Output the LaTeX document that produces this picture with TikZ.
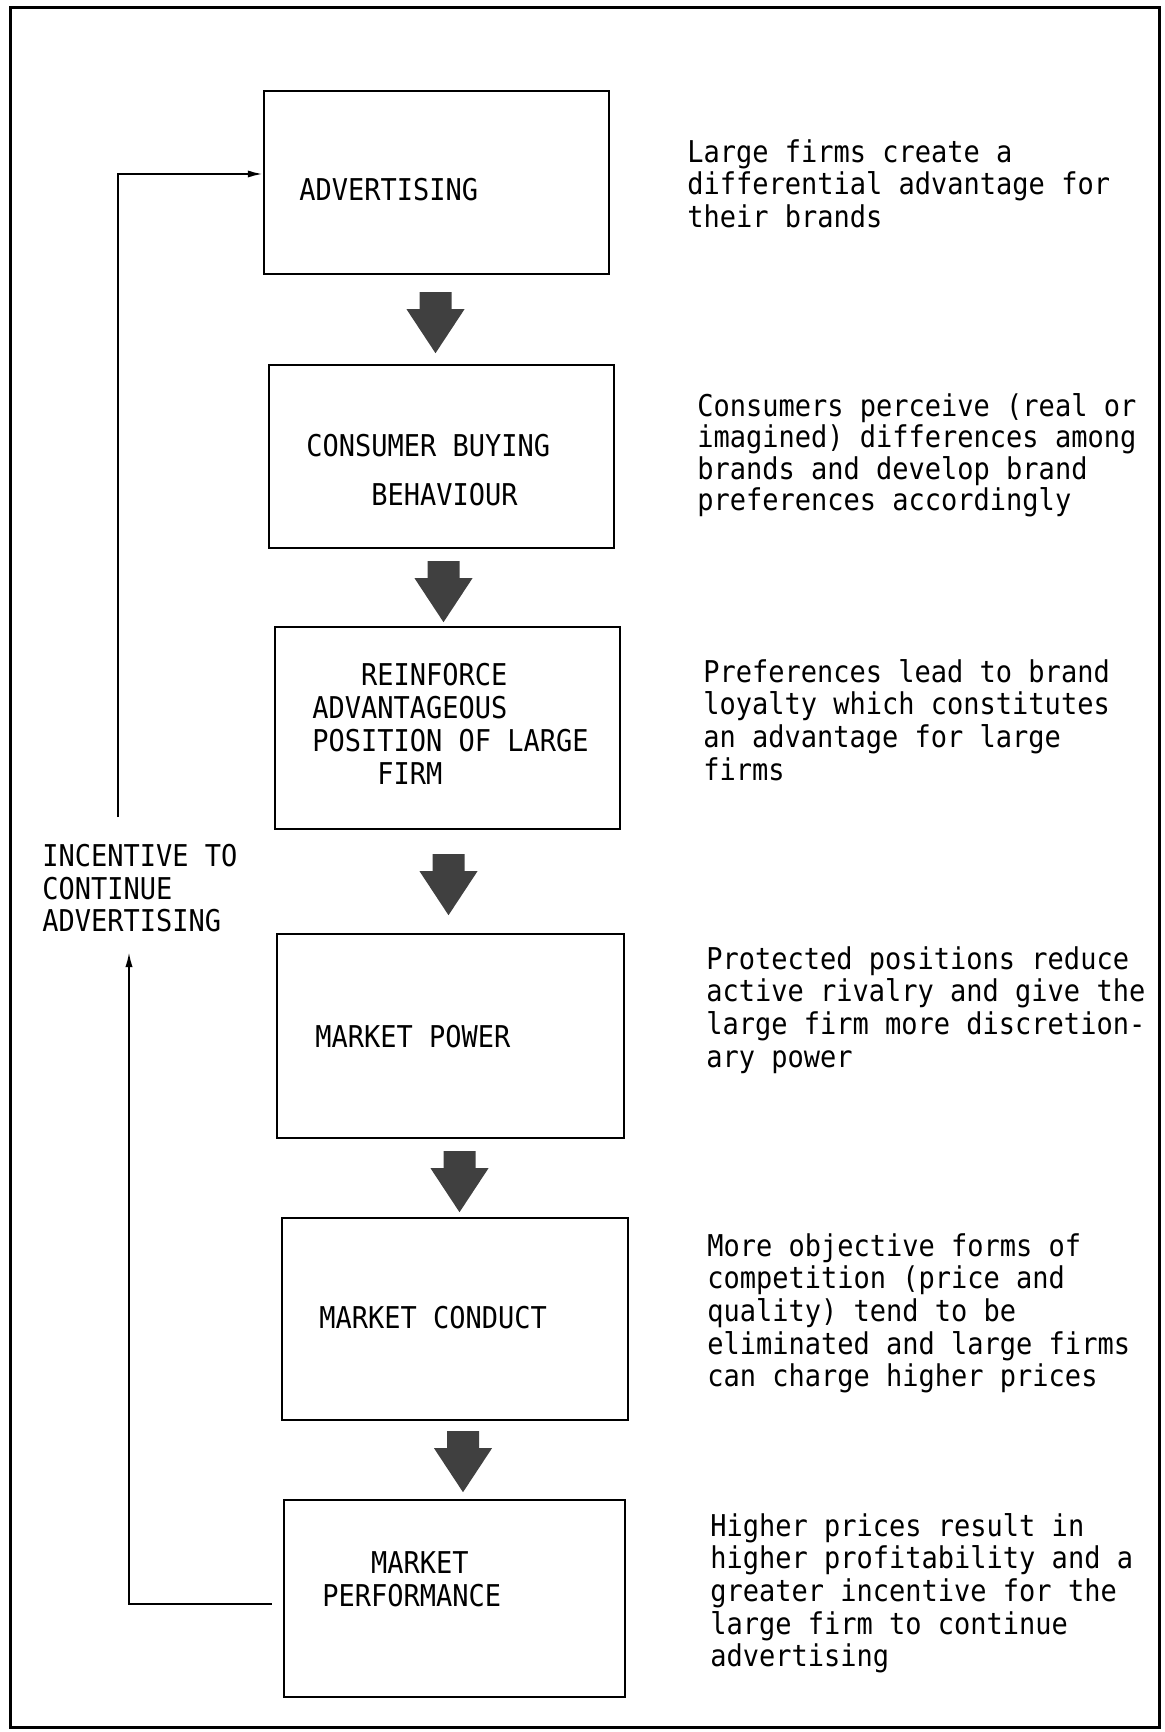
\documentclass[tikz,border=0pt]{standalone}
\usepackage{fontspec}
\usetikzlibrary{arrows.meta,calc,fit}
\newfontfamily\typefont[FakeStretch=0.9]{DejaVu Sans Mono}
\definecolor{arrowgrey}{rgb}{0.25,0.25,0.25}
% text nodes are hung from a point 24 units above their first baseline
\tikzset{
  frame/.style={draw, line width=1.5pt, inner sep=0pt},
  box/.style={draw, line width=1.2pt, inner sep=0pt},
  boxtext/.style={font=\typefont\fontsize{15}{16.5}\selectfont, anchor=north west, inner sep=0pt, align=left,
    execute at begin node={\rule{0pt}{12pt}}},
  notetext/.style={font=\typefont\fontsize{15}{16.3}\selectfont, anchor=north west, inner sep=0pt, align=left,
    execute at begin node={\rule{0pt}{12pt}}},
  feedback/.style={line width=1pt, -{Latex[length=7.5pt,width=3.6pt]}},
  fatarrow/.pic={\fill[arrowgrey] (-16,0) -- (16,0) -- (16,17) -- (29,17) -- (0,61) -- (-29,17) -- (-16,17) -- cycle;}
}
\begin{document}
\begin{tikzpicture}[x=0.5pt,y=-0.5pt]
\useasboundingbox (0,0) rectangle (1165,1732);

% outer frame
\node[frame, fit={(10,8) (1159,1727)}] (border) {};

% the chain of boxes
\node[box, fit={(264,91) (609,274)}]    (b1) {};
\node[box, fit={(269,365) (614,548)}]   (b2) {};
\node[box, fit={(275,627) (620,829)}]   (b3) {};
\node[box, fit={(277,934) (624,1138)}]  (b4) {};
\node[box, fit={(282,1218) (628,1420)}] (b5) {};
\node[box, fit={(284,1500) (625,1697)}] (b6) {};

% box captions
\node[boxtext] (t1) at (299,176) {ADVERTISING};
\node[boxtext, font=\typefont\fontsize{15}{24.5}\selectfont] (t2) at (306,434)
  {CONSUMER BUYING\\\hphantom{MMMM}BEHAVIOUR};
\node[boxtext] (t3) at (312,663)
  {\hphantom{MMM}REINFORCE\\ADVANTAGEOUS\\POSITION OF LARGE\\\hphantom{MMMM}FIRM};
\node[boxtext] (t4) at (315,1023) {MARKET POWER};
\node[boxtext] (t5) at (319,1304) {MARKET CONDUCT};
\node[boxtext] (t6) at (322,1551) {\hphantom{MMM}MARKET\\PERFORMANCE};

% block arrows between successive boxes
\path ($(b1.south)+(-1,17)$) pic {fatarrow};
\path ($(b2.south)+(2,12)$)  pic {fatarrow};
\path ($(b3.south)+(1,24)$)  pic {fatarrow};
\path ($(b4.south)+(9,12)$)  pic {fatarrow};
\path ($(b5.south)+(8,10)$)  pic {fatarrow};

% explanations on the right
\node[notetext] (n1) at (687,139)
  {Large firms create a\\differential advantage for\\their brands};
\node[notetext, font=\typefont\fontsize{15}{15.75}\selectfont] (n2) at (697,393)
  {Consumers perceive (real or\\imagined) differences among\\brands and develop brand\\preferences accordingly};
\node[notetext] (n3) at (703,659)
  {Preferences lead to brand\\loyalty which constitutes\\an advantage for large\\firms};
\node[notetext] (n4) at (706,946)
  {Protected positions reduce\\active rivalry and give the\\large firm more discretion-\\ary power};
\node[notetext] (n5) at (707,1233)
  {More objective forms of\\competition (price and\\quality) tend to be\\eliminated and large firms\\can charge higher prices};
\node[notetext] (n6) at (710,1513)
  {Higher prices result in\\higher profitability and a\\greater incentive for the\\large firm to continue\\advertising};

% feedback loop
\node[notetext] (loop) at (42,844) {INCENTIVE TO\\CONTINUE\\ADVERTISING};
\coordinate (upEnd) at (118,817);
\coordinate (upCorner) at (118,174);
\draw[feedback] (upEnd) -- (upCorner) -- (upCorner -| b1.west);
\coordinate (lowCorner) at (129,1604);
\coordinate (lowEnd) at (129,952);
\draw[feedback] ($(lowCorner -| b6.west)+(-11,0)$) -- (lowCorner) -- (lowEnd);
\end{tikzpicture}
\end{document}
